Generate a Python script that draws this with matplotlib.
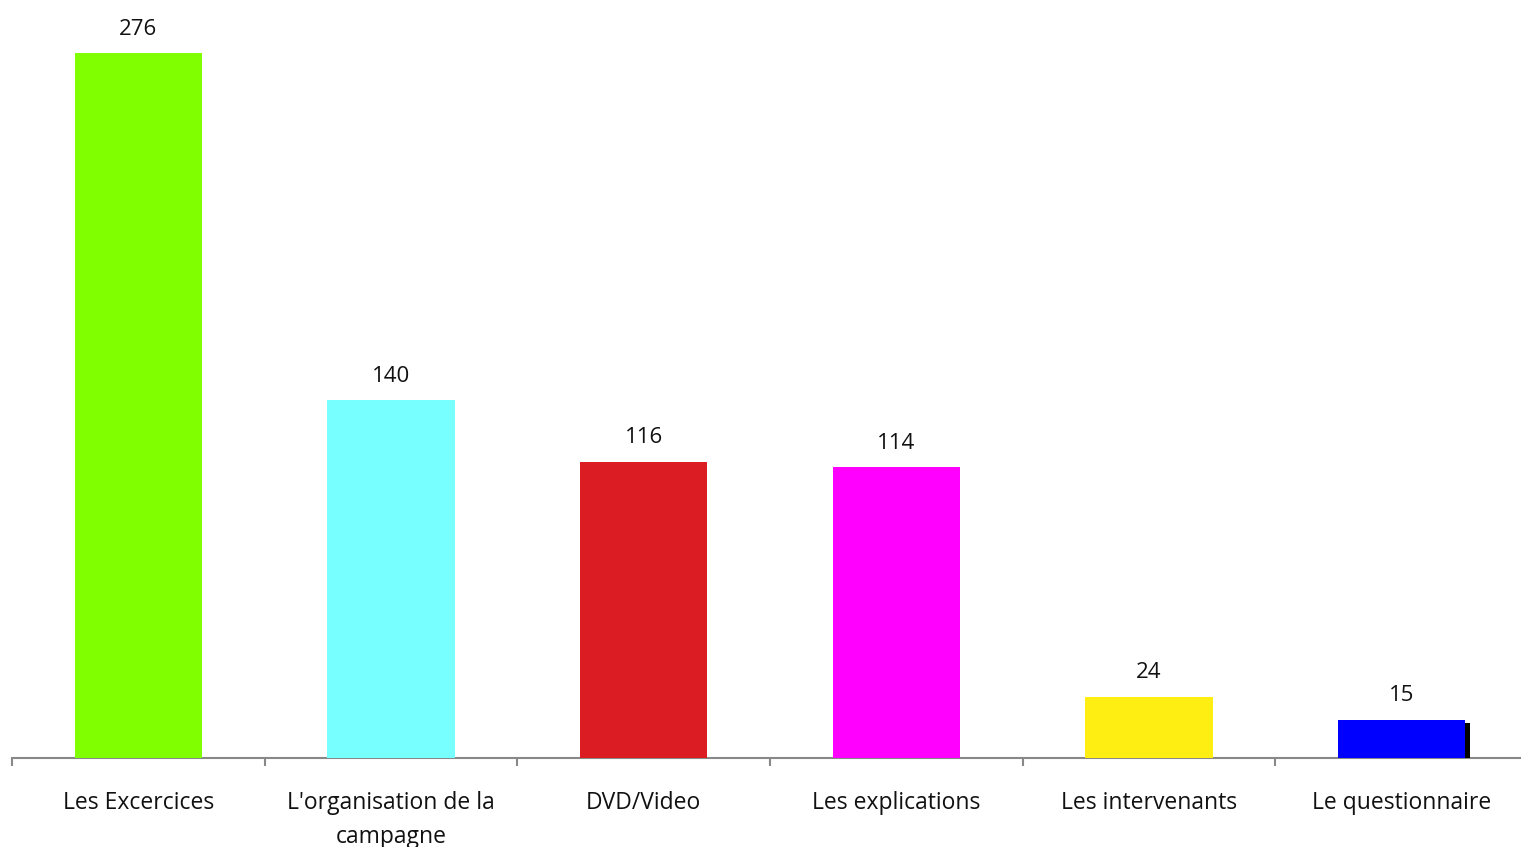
import matplotlib.pyplot as plt
import matplotlib.patheffects as pe
import numpy as np

categories = ['Les Excercices', "L'organisation de la\ncampagne", 'DVD/Video',
              'Les explications', 'Les intervenants', 'Le questionnaire']
values = [276, 140, 116, 114, 24, 15]
colors = ['#7FFF00', '#77FFFF', '#DC1C23', '#FF00FF', '#FFEE11', '#0000FF']

plt.rcParams['font.family'] = ['Open Sans', 'DejaVu Sans']

fig = plt.figure(figsize=(15.21, 8.47), dpi=100)
ax = fig.add_axes([12 / 1521, 89 / 847, 1516 / 1521, 1 - 89 / 847 - 17 / 847])

x = np.arange(len(categories))
bars = ax.bar(x, values, width=0.505, color=colors, zorder=3)

# the last bar gets a solid drop shadow
bars[-1].set_path_effects([pe.SimplePatchShadow(offset=(3.6, -2.2), shadow_rgbFace='black', alpha=1),
                           pe.Normal()])

for xi, v in zip(x, values):
    ax.annotate(str(v), (xi, v), xytext=(0, 9.5), textcoords='offset points',
                ha='center', va='bottom', fontsize=16, color='#111111')

ax.set_xlim(-0.5, 5.5)
ax.set_ylim(0, 290)
ax.set_yticks([])
for s in ['top', 'right', 'left']:
    ax.spines[s].set_visible(False)
ax.spines['bottom'].set_color('#888888')
ax.spines['bottom'].set_linewidth(1.5)

ax.set_xticks(x)
ax.set_xticklabels(categories, fontsize=16.5, color='#111111', linespacing=1.55)
ax.tick_params(axis='x', which='major', length=0, pad=23.5)
ax.set_xticks(np.arange(-0.5, 6, 1), minor=True)
ax.tick_params(axis='x', which='minor', length=6, width=1.5, color='#888888')

fig.savefig('out.png', dpi=100)
